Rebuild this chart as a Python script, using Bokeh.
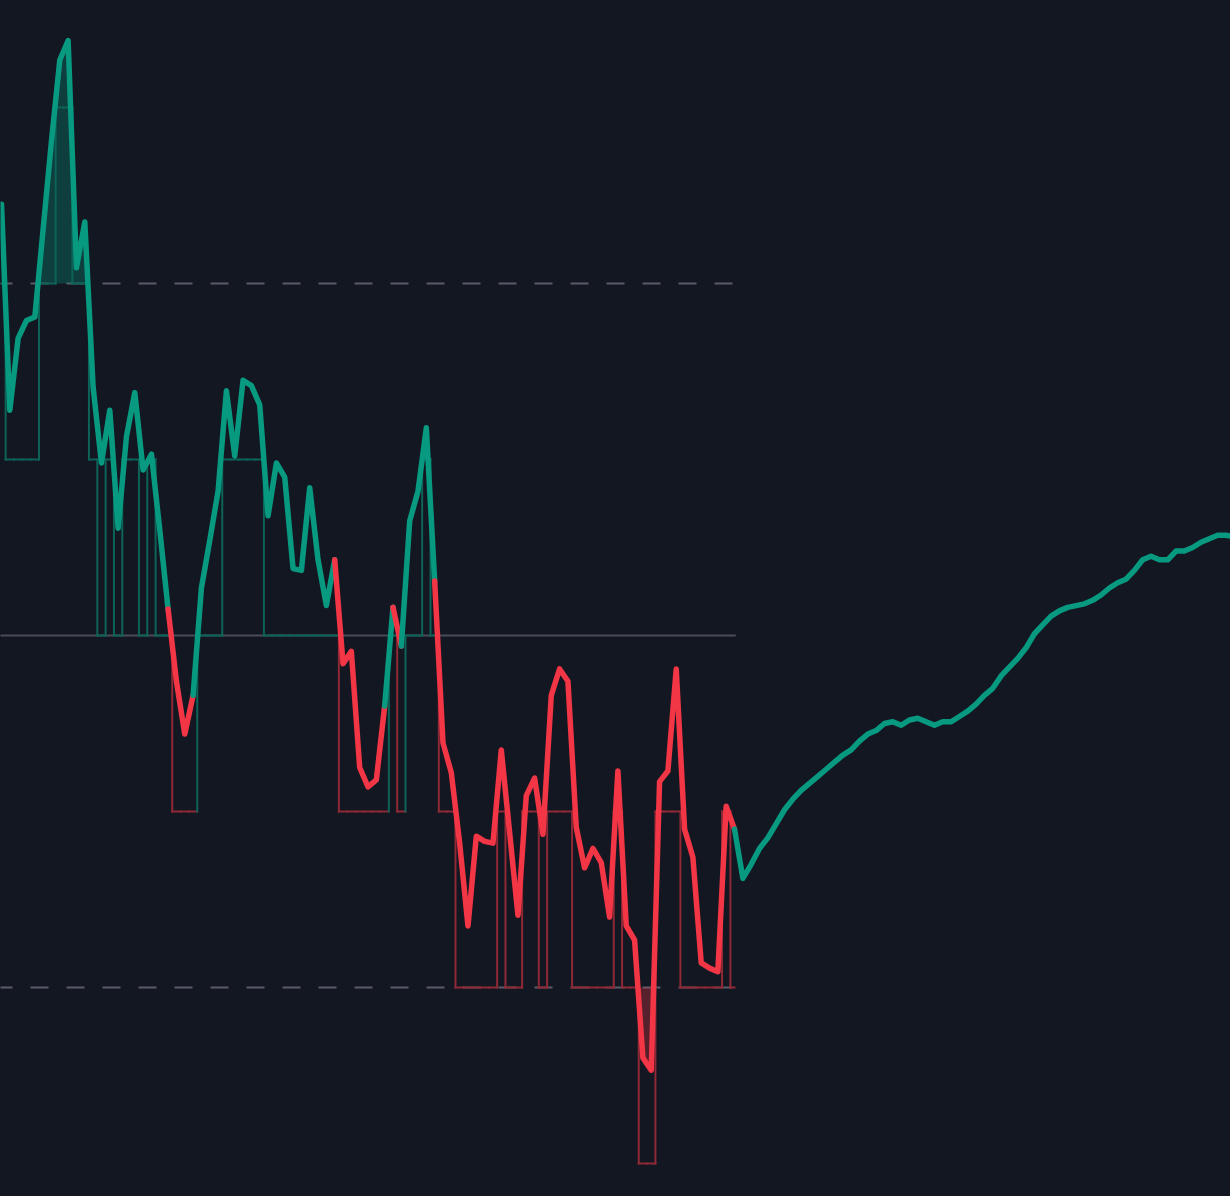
import numpy as np
from bokeh.plotting import figure
from bokeh.models import Range1d, CustomJS
from bokeh.io import curdoc
from bokeh.embed import file_html
from bokeh.resources import INLINE

# ---------------- data ----------------
# oscillator value per bar (historical part)
hist_values = [2.45, 1.28, 1.69, 1.79, 1.81, 2.31, 2.81, 3.27, 3.38, 2.09,
               2.35, 1.41, 0.98, 1.28, 0.61, 1.13, 1.38, 0.94, 1.03, 0.60,
               0.15, -0.26, -0.56, -0.34, 0.27, 0.54, 0.82, 1.39, 1.02, 1.45,
               1.42, 1.31, 0.68, 0.98, 0.90, 0.38, 0.37, 0.84, 0.43, 0.17,
               0.43, -0.16, -0.09, -0.75, -0.86, -0.82, -0.40, 0.16, -0.06, 0.65,
               0.82, 1.18, 0.31, -0.61, -0.78, -1.18, -1.65, -1.14, -1.17, -1.18,
               -0.65, -1.12, -1.59, -0.91, -0.81, -1.13, -0.34, -0.19, -0.26, -1.09,
               -1.32, -1.21, -1.29, -1.60, -0.77, -1.65, -1.73, -2.40, -2.47, -0.83,
               -0.77, -0.19, -1.10, -1.26, -1.86, -1.89, -1.91, -0.97, -1.10]

# projected path (starts at the last historical bar)
proj_values = [-1.10, -1.38, -1.30, -1.21, -1.15, -1.07, -0.99, -0.93, -0.88, -0.84,
               -0.80, -0.76, -0.72, -0.68, -0.65, -0.60, -0.56, -0.54, -0.50, -0.49,
               -0.51, -0.48, -0.47, -0.49, -0.51, -0.49, -0.49, -0.46, -0.43, -0.39,
               -0.34, -0.30, -0.23, -0.18, -0.13, -0.07, 0.01, 0.06, 0.11, 0.14,
               0.16, 0.17, 0.18, 0.20, 0.23, 0.27, 0.30, 0.32, 0.37, 0.43,
               0.45, 0.43, 0.43, 0.48, 0.48, 0.50, 0.53, 0.55, 0.57, 0.57, 0.56]

upper_band = 2.0
lower_band = -2.0
zero_level = 0.0

# ---------------- styling ----------------
BG = "#131722"
GREEN = "#089981"
RED = "#F23645"
STEP_GREEN = "#0d6357"
STEP_RED = "#8e2935"
ZERO_COL = "#4a4d57"
DASH_COL = "#5a5d68"

hist_v = np.array(hist_values, dtype=float)
hist_x = np.arange(len(hist_v), dtype=float)
proj_v = np.array(proj_values, dtype=float)
proj_x = np.arange(len(proj_v), dtype=float) + hist_x[-1]

p = figure(width=1230, height=1196, output_backend="svg", toolbar_location=None,
           x_axis_type=None, y_axis_type=None,
           x_range=Range1d(-0.12, 147.54), y_range=Range1d(-3.1875, 3.608),
           background_fill_color=BG, border_fill_color=BG, min_border=0)
p.outline_line_color = None
p.grid.visible = False

# reference lines
x_end = hist_x[-1] + 0.15
p.segment(x0=[-0.84], y0=[zero_level], x1=[x_end], y1=[zero_level],
          line_color=ZERO_COL, line_width=2)
p.segment(x0=[-0.84, -0.84], y0=[upper_band, lower_band], x1=[x_end, x_end],
          y1=[upper_band, lower_band], line_color=DASH_COL, line_width=2,
          line_dash="18 18")


def densify(xs, ys, level):
    dx, dy = [xs[0]], [ys[0]]
    for i in range(len(xs) - 1):
        x0, y0, x1, y1 = xs[i], ys[i], xs[i + 1], ys[i + 1]
        if (y0 - level) * (y1 - level) < 0:
            t = (level - y0) / (y1 - y0)
            dx.append(x0 + t * (x1 - x0))
            dy.append(level)
        dx.append(x1)
        dy.append(y1)
    return np.array(dx), np.array(dy)


# overbought / oversold fills
xu, yu = densify(hist_x, hist_v, upper_band)
p.varea(x=xu, y1=np.full(len(xu), upper_band), y2=np.maximum(yu, upper_band),
        fill_color=GREEN, fill_alpha=0.3)
xl, yl = densify(hist_x, hist_v, lower_band)
p.varea(x=xl, y1=np.minimum(yl, lower_band), y2=np.full(len(xl), lower_band),
        fill_color=RED, fill_alpha=0.3)

# quantised step line
levels = np.floor(hist_v)
n = len(levels)
sx0, sy0, sx1, sy1, scol = [], [], [], [], []
for i in range(n):
    left = hist_x[i] - 0.5 if i > 0 else hist_x[i]
    right = hist_x[i] + 0.5 if i < n - 1 else hist_x[i]
    sx0.append(left); sx1.append(right)
    sy0.append(levels[i]); sy1.append(levels[i])
    scol.append(STEP_GREEN if levels[i] >= 0 else STEP_RED)
for i in range(n - 1):
    if levels[i] != levels[i + 1]:
        xm = hist_x[i] + 0.5
        sx0.append(xm); sx1.append(xm)
        sy0.append(levels[i]); sy1.append(levels[i + 1])
        scol.append(STEP_GREEN if levels[i + 1] >= 0 else STEP_RED)
p.segment(x0=sx0, y0=sy0, x1=sx1, y1=sy1, line_color=scol, line_width=2,
          line_cap="square")

# main line, coloured per segment
seg_cols = [RED if hist_v[i + 1] < 0 else GREEN for i in range(n - 1)]
runs_x, runs_y, runs_c = [], [], []
start = 0
for i in range(1, len(seg_cols) + 1):
    if i == len(seg_cols) or seg_cols[i] != seg_cols[start]:
        runs_x.append(list(hist_x[start:i + 1]))
        runs_y.append(list(hist_v[start:i + 1]))
        runs_c.append(seg_cols[start])
        start = i
runs_x.append(list(proj_x))
runs_y.append(list(proj_v))
runs_c.append(GREEN)
p.multi_line(xs=runs_x, ys=runs_y, line_color=runs_c, line_width=5.5,
             line_join="round", line_cap="round")

doc = curdoc()
doc.add_root(p)
doc.js_on_event("document_ready", CustomJS(code="document.body.style.backgroundColor='#131722';document.documentElement.style.backgroundColor='#131722';"))

open("out.html", "w").write(file_html(p, INLINE))
